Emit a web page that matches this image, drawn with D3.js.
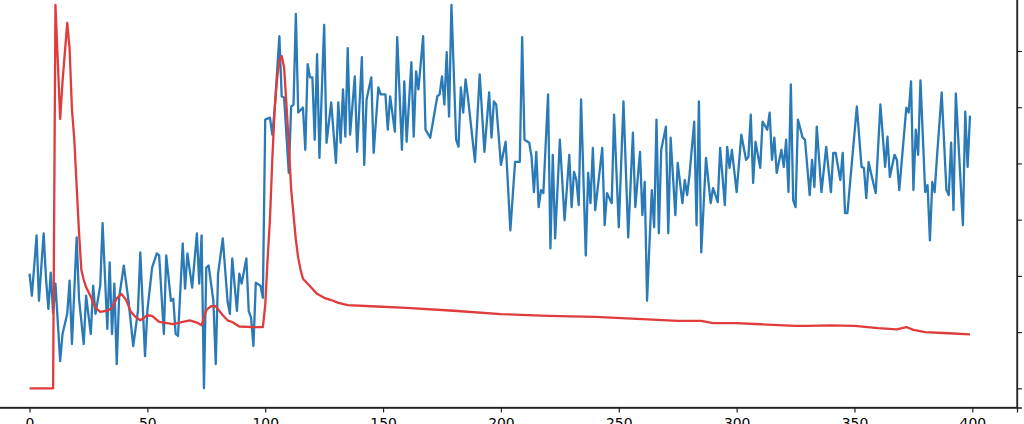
<!DOCTYPE html>
<html>
<head>
<meta charset="utf-8">
<script src="https://cdn.jsdelivr.net/npm/d3@7"></script>
<style>
  body { margin: 0; background: #fff; overflow: hidden; }
  svg { display: block; }
  .tick text { font-family: "DejaVu Sans", sans-serif; font-size: 13.9px; fill: #000; }
</style>
</head>
<body>
<svg id="chart"></svg>
<script>
// tick labels
var xTicks = [0, 50, 100, 150, 200, 250, 300, 350, 400];
var redTicks = [0, 1, 2, 3, 4, 5, 6];

// blue series (left axis), [index, value]
var blue = [
  [0,127],[1,105],[3,165],[4,100],[6,167],[7,122],[8,92],[9,128],[10,88],[11,117],
  [13,40],[14,67],[16,87],[17,120],[18,57],[20,163],[21,102],[23,57],[24,105],[26,67],
  [27,115],[28,87],[30,115],[31,177],[33,72],[34,138],[35,67],[36,117],[37,37],[38,103],
  [40,135],[42,100],[44,55],[46,90],[47,148],[49,45],[50,90],[52,133],[54,147],[55,145],
  [57,67],[58,145],[60,100],[61,102],[62,67],[63,65],[65,157],[66,112],[67,147],[69,113],
  [71,167],[72,117],[73,165],[74,13],[75,133],[76,135],[78,100],[79,37],[80,127],[82,162],
  [84,100],[85,87],[86,142],[88,90],[89,127],[90,117],[92,142],[93,90],[94,83],[95,55],
  [96,118],[98,115],[99,103],[100,280],[102,282],[103,265],[104,290],[106,363],[107,303],[108,302],
  [110,227],[111,293],[112,295],[113,385],[114,287],[116,292],[117,250],[118,335],[119,322],[120,322],
  [121,260],[122,345],[123,242],[125,374],[126,257],[128,297],[130,237],[131,297],[132,257],[133,310],
  [134,263],[135,351],[136,265],[138,323],[139,248],[141,342],[142,235],[143,300],[145,322],[146,247],
  [148,312],[149,305],[151,305],[152,270],[153,303],[155,268],[156,362],[158,250],[159,318],[160,258],
  [162,337],[163,263],[164,328],[165,310],[167,363],[168,270],[170,262],[173,303],[174,305],[175,323],
  [176,295],[177,347],[178,283],[179,394],[181,260],[182,253],[183,312],[184,287],[185,320],[186,302],
  [189,238],[191,325],[193,248],[195,307],[196,262],[197,298],[198,295],[200,235],[202,258],[204,170],
  [206,238],[208,238],[209,362],[210,260],[212,257],[213,243],[214,208],[215,248],[216,193],[217,210],
  [218,207],[220,305],[221,152],[222,245],[223,162],[225,260],[227,180],[229,245],[230,193],[231,228],
  [232,220],[233,195],[234,300],[236,145],[237,227],[238,197],[239,252],[240,190],[243,252],[244,175],
  [245,207],[247,197],[248,285],[250,173],[252,298],[254,163],[256,267],[257,193],[259,248],[260,185],
  [261,218],[262,100],[264,210],[265,173],[266,280],[267,167],[268,250],[270,273],[271,167],[272,262],
  [274,185],[275,237],[277,197],[278,220],[279,205],[280,225],[282,278],[283,175],[284,298],[285,148],
  [287,242],[289,197],[290,212],[292,198],[293,252],[295,195],[296,253],[297,232],[298,250],[300,208],
  [302,265],[304,240],[305,243],[306,285],[307,217],[308,258],[310,232],[311,278],[313,270],[314,287],
  [315,240],[316,262],[317,227],[319,250],[320,233],[321,260],[322,208],[323,315],[324,200],[325,193],
  [326,280],[328,262],[329,260],[331,205],[332,240],[333,213],[334,273],[336,208],[338,253],[340,208],
  [341,247],[342,247],[344,220],[345,247],[346,187],[347,187],[351,293],[353,233],[354,232],[355,202],
  [356,238],[357,227],[359,207],[361,295],[363,233],[364,263],[365,223],[367,245],[368,240],[369,210],
  [372,292],[373,287],[374,318],[375,210],[376,270],[377,245],[378,319],[380,208],[381,215],[382,160],
  [383,218],[384,208],[385,243],[387,307],[389,210],[390,205],[391,257],[392,190],[393,306],[396,175],
  [397,288],[398,233],[399,284]
];

// red series (right axis)
var red = [
  [0,0],[10,0],[11,6.82],[13,4.79],[14,5.45],[16,6.5],[17,6.04],[18,4.96],[19,4.43],[20,3.59],
  [21,2.77],[22,2.1],[23,1.93],[24,1.8],[26,1.63],[28,1.43],[30,1.36],[33,1.38],[35,1.43],[37,1.6],
  [39,1.68],[41,1.57],[43,1.36],[45,1.27],[47,1.21],[50,1.3],[52,1.29],[55,1.18],[61,1.14],[65,1.18],
  [68,1.21],[71,1.17],[73,1.12],[75,1.39],[77,1.46],[79,1.46],[82,1.3],[84,1.21],[86,1.18],[89,1.1],
  [95,1.09],[99,1.09],[100,1.48],[101,2.29],[102,3.0],[103,4.07],[104,4.96],[105,5.5],[106,5.82],[107,5.91],
  [108,5.71],[109,5.05],[110,4.34],[111,3.54],[112,3.09],[113,2.64],[114,2.32],[115,2.11],[116,1.95],[118,1.86],
  [120,1.77],[122,1.68],[125,1.61],[128,1.57],[131,1.52],[135,1.48],[145,1.46],[160,1.43],[180,1.38],[200,1.32],
  [220,1.29],[240,1.27],[260,1.23],[275,1.2],[285,1.2],[290,1.16],[300,1.16],[310,1.14],[320,1.12],[325,1.11],
  [330,1.11],[340,1.12],[350,1.11],[360,1.07],[368,1.05],[372,1.09],[375,1.04],[380,1.0],[390,0.98],[399,0.96]
];

var width = 1024, height = 424;
// axes box (most of it sits outside the visible window, like the cropped original)
var box = {left: -17.5, right: 1017, top: -14.3, bottom: 407.5};

// matplotlib style 5% margins
function padded(vals) {
  var e = d3.extent(vals), p = (e[1] - e[0]) * 0.05;
  return [e[0] - p, e[1] + p];
}

var svg = d3.select("#chart").attr("width", width).attr("height", height);

var x = d3.scaleLinear().domain(padded([0, 399])).range([box.left, box.right]);
var yBlue = d3.scaleLinear().domain(padded(blue.map(function(d){ return d[1]; }))).range([box.bottom, box.top]);
var yRed = d3.scaleLinear().domain(padded(red.map(function(d){ return d[1]; }))).range([box.bottom, box.top]);

var blueLine = d3.line().x(function(d){ return x(d[0]); }).y(function(d){ return yBlue(d[1]); });
var redLine = d3.line().x(function(d){ return x(d[0]); }).y(function(d){ return yRed(d[1]); });

svg.append("path")
  .datum(blue)
  .attr("d", blueLine)
  .attr("fill", "none")
  .attr("stroke", "#2a7ab7")
  .attr("stroke-width", 2.3)
  .attr("stroke-linejoin", "round");

svg.append("path")
  .datum(red)
  .attr("d", redLine)
  .attr("fill", "none")
  .attr("stroke", "#e03c3c")
  .attr("stroke-width", 2.3)
  .attr("stroke-linejoin", "round");

// spines
svg.append("rect")
  .attr("x", box.left).attr("y", box.top)
  .attr("width", box.right - box.left).attr("height", box.bottom - box.top)
  .attr("fill", "none").attr("stroke", "#222").attr("stroke-width", 1.3);

var xAxis = svg.append("g")
  .attr("transform", "translate(0," + box.bottom + ")")
  .call(d3.axisBottom(x).tickValues(xTicks).tickSizeOuter(0).tickSize(4.9).tickPadding(5.6));

var rAxis = svg.append("g")
  .attr("transform", "translate(" + box.right + ",0)")
  .call(d3.axisRight(yRed).tickValues(redTicks).tickSizeOuter(0).tickSize(4.9).tickPadding(4.9));

svg.selectAll(".domain").attr("stroke", "#222").attr("stroke-width", 1.3);
svg.selectAll(".tick line").attr("stroke", "#222").attr("stroke-width", 1.2);
</script>
</body>
</html>
